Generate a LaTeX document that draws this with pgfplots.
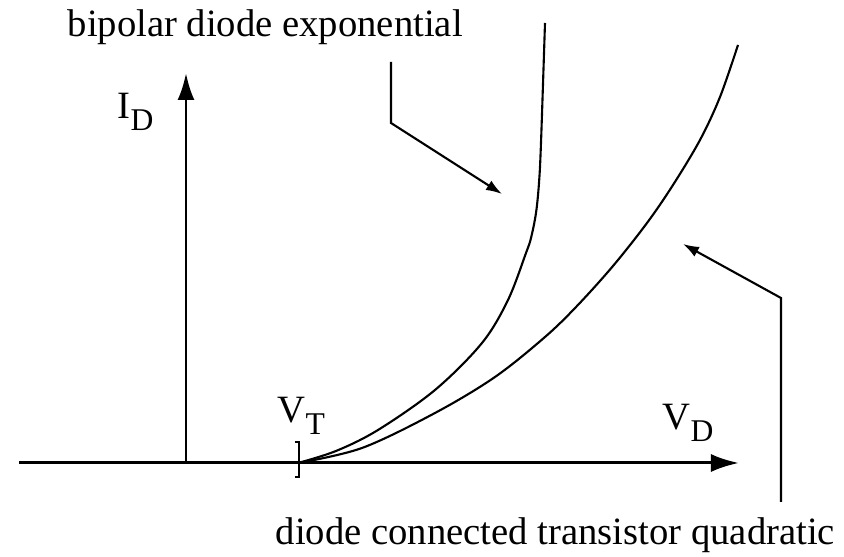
\documentclass[border=0pt]{standalone}
\usepackage{pgfplots}
\pgfplotsset{compat=1.18}
\usetikzlibrary{arrows.meta}
\usepackage{fontspec}
\setmainfont{Liberation Serif}
\newcommand{\sub}[1]{\raisebox{-0.65ex}{\fontsize{9}{10}\selectfont #1}}

\begin{document}
\begin{tikzpicture}
\begin{axis}[
  scale only axis,
  width=84.4mm, height=55.7mm,
  xmin=-186, xmax=658, ymin=-94, ymax=463,
  hide axis, clip=false,
]
% keep the full canvas in the bounding box
\path (axis cs:-186,-94) rectangle (axis cs:658,463);

% coordinate axes
\draw[line width=0.85pt, -{Latex[length=2.8mm,width=1.8mm]}] (axis cs:-167,0) -- (axis cs:553,0);
\draw[line width=0.85pt, -{Latex[length=2.7mm,width=1.7mm]}] (axis cs:0,0) -- (axis cs:0,390);

% threshold tick
\draw[line width=0.7pt] (axis cs:109,21) -- (axis cs:113,21) -- (axis cs:113,-14) -- (axis cs:109,-14);

% bipolar diode: exponential
\addplot[black, line width=0.6pt, smooth, tension=0.55] coordinates {
  (112,0) (150,12) (192,33) (249,73) (296,120) (322,163) (340,210)
  (345,225) (350,250) (353,280) (355,320) (359,440)
};

% diode connected transistor: quadratic
\addplot[black, line width=0.6pt, smooth, tension=0.55] coordinates {
  (112,0) (176,15) (249,50) (309,86) (359,126) (391,157) (427,197)
  (461,240) (487,278) (514,323) (534,366) (552,418)
};

% callouts
\draw[line width=0.6pt, -{Latex[length=1.6mm,width=1.1mm]}]
  (axis cs:205,401) -- (axis cs:205,340) -- (axis cs:316,269);
\draw[line width=0.6pt, -{Latex[length=1.6mm,width=1.1mm]}]
  (axis cs:595,-39) -- (axis cs:595,165) -- (axis cs:497,219);

% labels
\node[anchor=base west, inner sep=0pt, font=\fontsize{11}{13}\selectfont]
  at (axis cs:-119,426) {bipolar diode exponential};
\node[anchor=base west, inner sep=0pt, font=\fontsize{11}{13}\selectfont]
  at (axis cs:89,-82) {diode connected transistor quadratic};
\node[anchor=base west, inner sep=0pt, font=\fontsize{11}{13}\selectfont]
  at (axis cs:-69,344) {I\sub{D}};
\node[anchor=base west, inner sep=0pt, font=\fontsize{11}{13}\selectfont]
  at (axis cs:91,40) {V\sub{T}};
\node[anchor=base west, inner sep=0pt, font=\fontsize{11}{13}\selectfont]
  at (axis cs:476,33) {V\sub{D}};
\end{axis}
\end{tikzpicture}
\end{document}
